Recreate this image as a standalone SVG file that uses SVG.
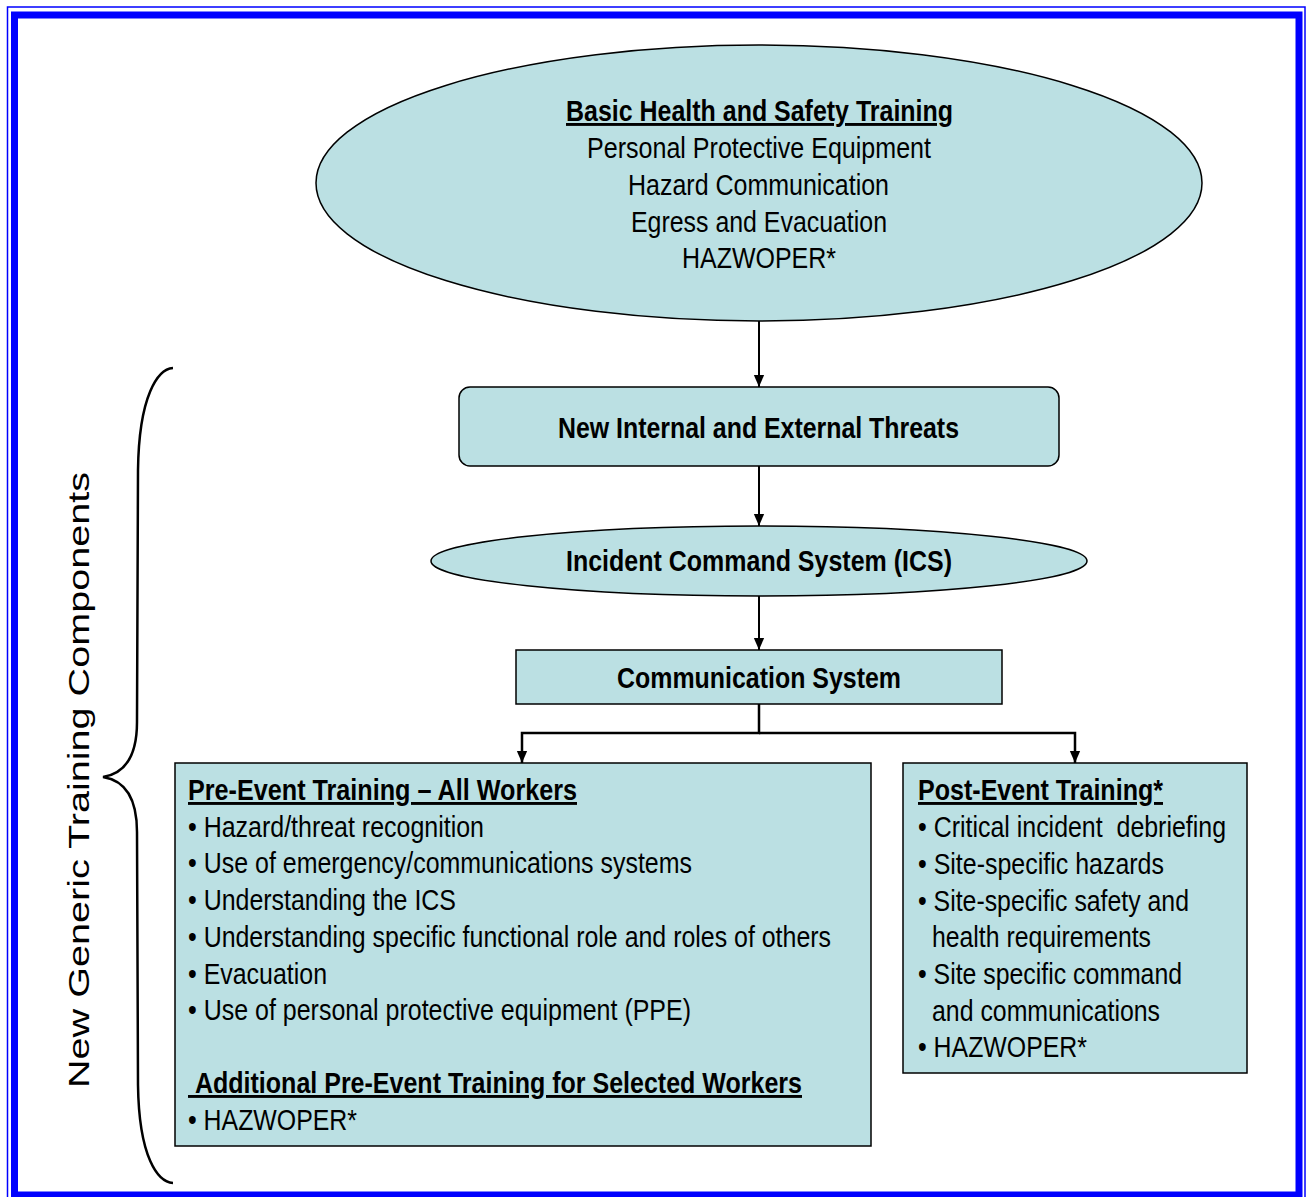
<svg xmlns="http://www.w3.org/2000/svg" width="1307" height="1197" viewBox="0 0 1307 1197">
<style>
.node{fill:#BBE0E3;stroke:#000;stroke-width:1.5}
text{font-family:"Liberation Sans",Arial,sans-serif;font-size:29px;fill:#000}
.b{font-weight:bold}
.u{text-decoration:underline}
.c{text-anchor:middle}
.conn{fill:none;stroke:#000;stroke-width:2}
</style>
<defs>
<marker id="arr" markerUnits="userSpaceOnUse" markerWidth="12" markerHeight="15" refX="14" refY="6" viewBox="0 0 14 12" orient="auto">
<path d="M0,0 L14,6 L0,12 z" fill="#000"/>
</marker>
</defs>
<rect width="1307" height="1197" fill="#fff"/>
<g id="frame">
<rect x="7.5" y="7" width="1297.5" height="1200" fill="none" stroke="#0000FF" stroke-width="1.5"/>
<rect x="14.5" y="15" width="1284.5" height="1180" fill="none" stroke="#0000FF" stroke-width="7"/>
</g>
<g id="connectors">
<path class="conn" d="M759,321 V387" marker-end="url(#arr)"/>
<path class="conn" d="M759,466 V526" marker-end="url(#arr)"/>
<path class="conn" d="M759,596 V650" marker-end="url(#arr)"/>
<path class="conn" style="stroke-width:2.5" d="M759,704 V733 H522 V763" marker-end="url(#arr)"/>
<path class="conn" style="stroke-width:2.5" d="M759,733 H1075 V763" marker-end="url(#arr)"/>
</g>
<g id="basic">
<ellipse class="node" cx="759" cy="183" rx="443" ry="138"/>
<text class="b u c" x="759.5" y="121" textLength="387" lengthAdjust="spacingAndGlyphs">Basic Health and Safety Training</text>
<text class="c" x="759" y="158" textLength="344" lengthAdjust="spacingAndGlyphs">Personal Protective Equipment</text>
<text class="c" x="758.5" y="195" textLength="261" lengthAdjust="spacingAndGlyphs">Hazard Communication</text>
<text class="c" x="759" y="232" textLength="256" lengthAdjust="spacingAndGlyphs">Egress and Evacuation</text>
<text class="c" x="759" y="268" textLength="154" lengthAdjust="spacingAndGlyphs">HAZWOPER*</text>
</g>
<g id="threats">
<rect class="node" x="459" y="387" width="600" height="79" rx="11"/>
<text class="b c" x="758.5" y="438" textLength="401" lengthAdjust="spacingAndGlyphs">New Internal and External Threats</text>
</g>
<g id="ics">
<ellipse class="node" cx="759" cy="561" rx="328" ry="35"/>
<text class="b c" x="759" y="571" textLength="386" lengthAdjust="spacingAndGlyphs">Incident Command System (ICS)</text>
</g>
<g id="comm">
<rect class="node" x="516" y="650" width="486" height="54"/>
<text class="b c" x="759" y="688" textLength="284" lengthAdjust="spacingAndGlyphs">Communication System</text>
</g>
<g id="pre-event">
<rect class="node" x="175" y="763" width="696" height="383"/>
<text class="b u" x="188" y="800" textLength="389" lengthAdjust="spacingAndGlyphs">Pre-Event Training – All Workers</text>
<text x="188" y="837" textLength="296" lengthAdjust="spacingAndGlyphs">• Hazard/threat recognition</text>
<text x="188" y="873" textLength="504" lengthAdjust="spacingAndGlyphs">• Use of emergency/communications systems</text>
<text x="188" y="910" textLength="268" lengthAdjust="spacingAndGlyphs">• Understanding the ICS</text>
<text x="188" y="947" textLength="643" lengthAdjust="spacingAndGlyphs">• Understanding specific functional role and roles of others</text>
<text x="188" y="984" textLength="139" lengthAdjust="spacingAndGlyphs">• Evacuation</text>
<text x="188" y="1020" textLength="503" lengthAdjust="spacingAndGlyphs">• Use of personal protective equipment (PPE)</text>
<text class="b u" x="188" y="1093" textLength="614" lengthAdjust="spacingAndGlyphs">&#160;Additional Pre-Event Training for Selected Workers</text>
<text x="188" y="1130" textLength="169" lengthAdjust="spacingAndGlyphs">• HAZWOPER*</text>
</g>
<g id="post-event">
<rect class="node" x="903" y="763" width="344" height="310"/>
<text class="b u" x="918" y="800" textLength="245" lengthAdjust="spacingAndGlyphs">Post-Event Training*</text>
<text x="918" y="837" textLength="308" lengthAdjust="spacingAndGlyphs" xml:space="preserve">• Critical incident  debriefing</text>
<text x="918" y="874" textLength="246" lengthAdjust="spacingAndGlyphs">• Site-specific hazards</text>
<text x="918" y="911" textLength="271" lengthAdjust="spacingAndGlyphs">• Site-specific safety and</text>
<text x="932" y="947" textLength="219" lengthAdjust="spacingAndGlyphs">health requirements</text>
<text x="918" y="984" textLength="264" lengthAdjust="spacingAndGlyphs">• Site specific command</text>
<text x="932" y="1021" textLength="228" lengthAdjust="spacingAndGlyphs">and communications</text>
<text x="918" y="1057" textLength="169" lengthAdjust="spacingAndGlyphs">• HAZWOPER*</text>
</g>
<g id="brace-label">
<path d="M173,368 C158,369 139,395 138,470 L137,722 C137,760 122,774 103,777 C122,780 137,794 137,832 L138,1085 C139,1158 158,1182 173,1183" fill="none" stroke="#000" stroke-width="2.5"/>
<text class="c" transform="translate(89,780) rotate(-90)" style="font-size:30px" textLength="616" lengthAdjust="spacingAndGlyphs">New Generic Training Components</text>
</g>
</svg>
